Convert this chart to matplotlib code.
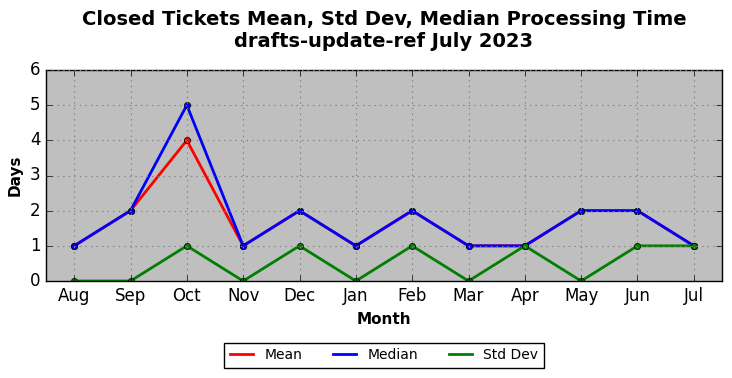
import matplotlib
matplotlib.use("Agg")
import matplotlib.pyplot as plt

plt.style.use("classic")

months = ["Aug", "Sep", "Oct", "Nov", "Dec", "Jan", "Feb", "Mar", "Apr", "May", "Jun", "Jul"]
mean_days = [1, 2, 4, 1, 2, 1, 2, 1, 1, 2, 2, 1]
median_days = [1, 2, 5, 1, 2, 1, 2, 1, 1, 2, 2, 1]
std_days = [0, 0, 1, 0, 1, 0, 1, 0, 1, 0, 1, 1]

fig = plt.figure(figsize=(7.32, 3.78), dpi=100)
fig.patch.set_facecolor("white")
ax = fig.add_axes([46 / 732, 1 - 281 / 378, 676 / 732, 211 / 378])
ax.set_facecolor("#bfbfbf")

x = range(len(months))
ax.plot(x, mean_days, "r-", lw=2, marker="o", ms=4.5, mec="black", label="Mean")
ax.plot(x, median_days, "b-", lw=2, marker="o", ms=4.5, mec="black", label="Median")
ax.plot(x, std_days, "g-", lw=2, marker="o", ms=4.5, mec="black", label="Std Dev")

ax.set_xlim(-0.5, 11.5)
ax.set_ylim(0, 6)
ax.set_xticks(list(x))
ax.set_xticklabels(months)
ax.tick_params(labelsize=12)
ax.grid(True, color="#808080", linestyle=":", linewidth=0.8)
ax.set_xlabel("Month", fontsize=11, fontweight="bold")
ax.set_ylabel("Days", fontsize=11, fontweight="bold")
ax.set_title("Closed Tickets Mean, Std Dev, Median Processing Time\ndrafts-update-ref July 2023",
             fontsize=14, fontweight="bold", y=1.078)

leg = ax.legend(loc="upper center", bbox_to_anchor=(0.5, -0.26), ncol=3, fontsize=10,
                fancybox=False, numpoints=1, handlelength=1.7, columnspacing=2.2)
for line in leg.get_lines():
    line.set_marker("")

fig.savefig("out.png", dpi=100, facecolor="white")
